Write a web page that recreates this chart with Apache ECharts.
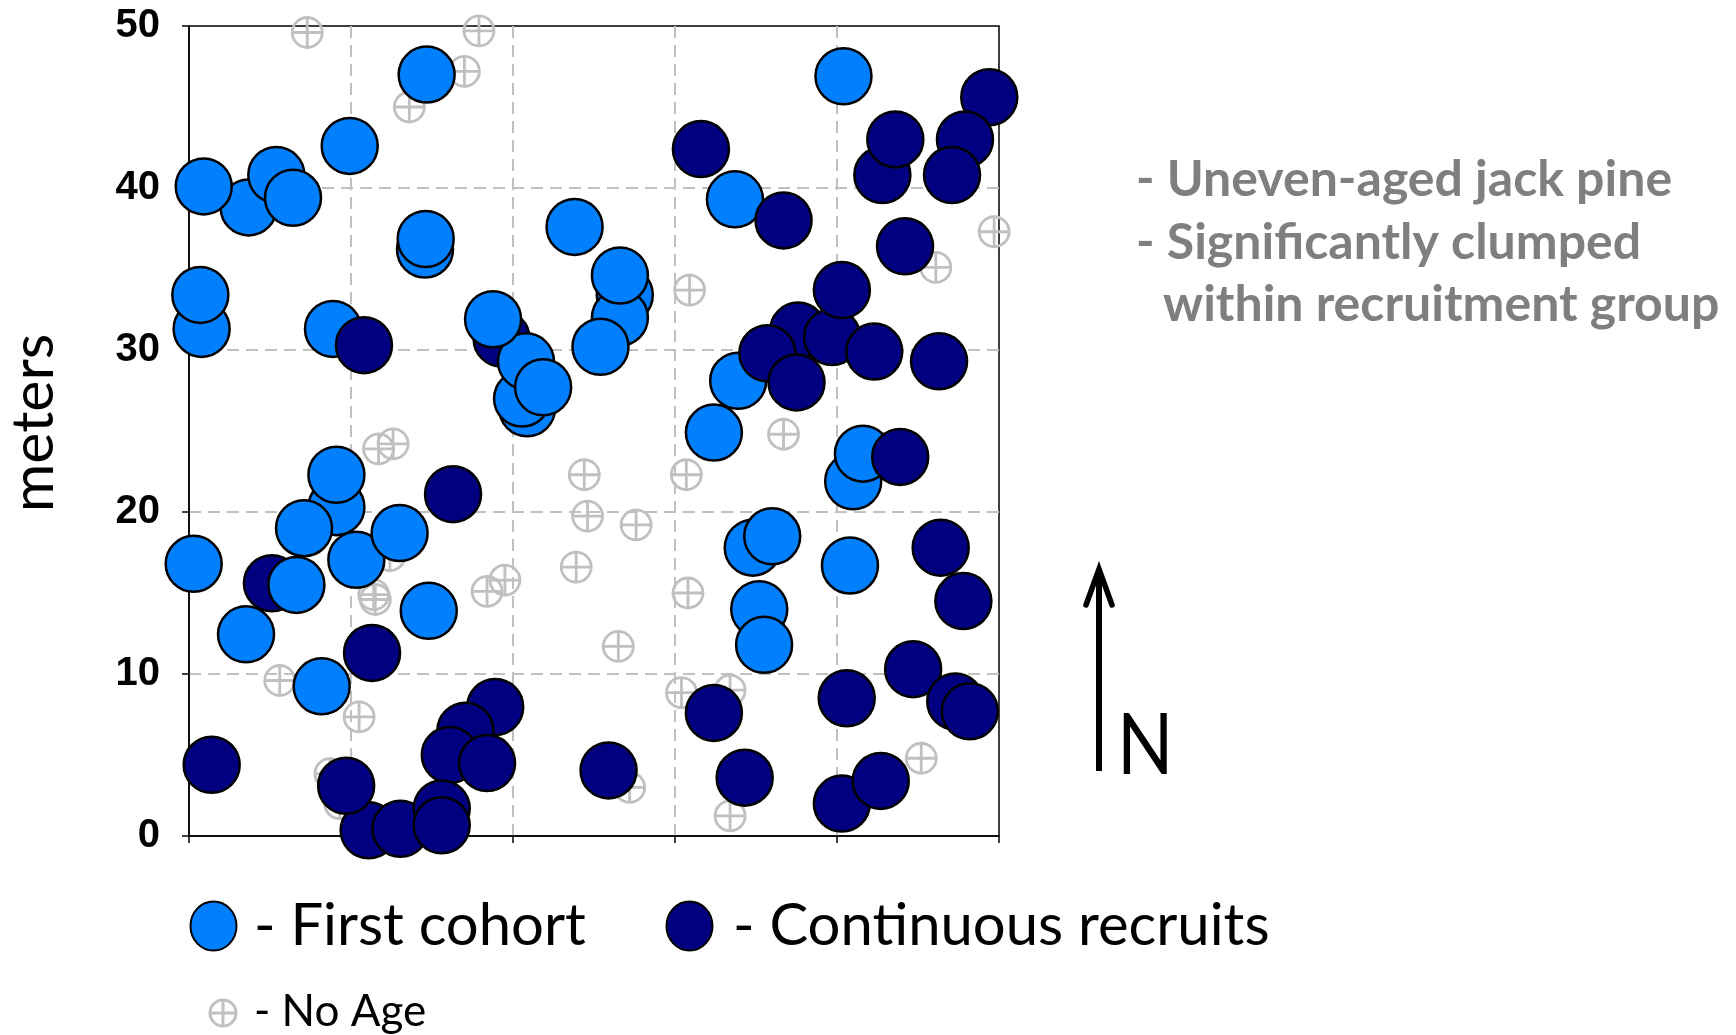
<!DOCTYPE html>
<html><head><meta charset="utf-8">
<script src="https://cdn.jsdelivr.net/npm/echarts@6/dist/echarts.min.js"></script>
<style>html,body{margin:0;padding:0;background:#fff}#c{width:1736px;height:1035px}</style>
</head><body><div id="c"></div>
<script>
// ---- data (metres, x = east, y = north) ----
const yTickLabels = ['0', '10', '20', '30', '40', '50'];

const firstCohort = [
  [0.78,31.3],[0.70,33.4],
  [3.68,38.8],[0.91,40.1],[5.39,40.8],[6.42,39.4],
  [9.92,42.6],[14.67,47.0],
  [14.57,36.2],[14.61,36.85],
  [8.89,31.3],
  [20.87,26.4],[20.56,27.0],[20.8,29.3],[21.86,27.7],[18.77,31.9],
  [23.8,37.6],
  [26.9,33.4],[26.6,32.0],[26.6,34.6],[25.4,30.2],
  [40.4,46.9],[33.7,39.3],[33.9,28.1],[32.4,24.9],
  [41.0,21.9],[41.6,23.6],
  [34.8,17.8],[36.0,18.5],[40.8,16.7],[35.2,14.0],[35.5,11.8],
  [0.29,16.8],[3.52,12.45],[9.1,20.3],[9.1,22.3],[7.1,19.0],[6.63,15.5],
  [10.33,17.05],[13.0,18.7],[14.8,13.9],[8.19,9.24]
];

// continuous recruits that lie underneath first-cohort trees
const recruitsUnder = [[5.12,15.6],[19.3,30.7]];

// continuous recruits drawn on top
const recruitsOver = [
  [10.8,30.3],
  [31.6,42.4],[36.7,38.0],[49.4,45.6],[42.8,40.8],[43.6,43.0],[47.9,43.0],[47.1,40.8],[44.2,36.4],
  [37.6,31.2],[39.7,30.8],[40.3,33.7],[35.7,29.8],[37.5,28.0],[42.3,29.9],[46.3,29.3],
  [43.9,23.4],[46.4,17.8],[47.8,14.5],[44.7,10.3],[40.6,8.5],[47.3,8.3],[48.2,7.7],
  [32.4,7.6],[34.3,3.6],[25.9,4.05],[40.3,2.0],[42.7,3.4],
  [16.3,21.1],[11.3,11.3],[1.4,4.4],
  [18.9,7.96],[17.06,6.5],[16.1,5.0],[18.4,4.5],
  [11.09,0.35],[13.05,0.45],[15.6,1.7],[15.6,0.66],[9.7,3.1]
];

const noAge = [
  [7.3,49.6],[17.9,49.7],[17.0,47.2],[13.6,45.0],
  [11.7,23.9],[12.6,24.2],[11.4,14.9],[11.5,14.6],[18.4,15.1],[19.5,15.8],
  [5.6,9.6],[10.5,7.35],[8.7,3.85],[9.3,2.0],[12.4,17.3],
  [30.9,33.7],[49.7,37.3],[46.1,35.1],[36.7,24.8],
  [24.4,22.3],[30.7,22.3],[24.6,19.75],[27.6,19.2],[23.9,16.6],[30.8,15.0],
  [26.5,11.7],[30.4,8.85],[33.4,9.0],[27.2,3.0],[33.4,1.24],[45.2,4.8]
];

const seriesNames = ['First cohort', 'Continuous recruits', 'No Age'];
const notes = ['- Uneven-aged jack pine', '- Significantly clumped', 'within recruitment group'];

// ---- styles ----
const LIGHT = '#0080FF', DARK = '#000080', GREY = '#c0c0c0';
const crossPath = 'path://M1,15 A14,14 0 1 1 29,15 A14,14 0 1 1 1,15 Z M1,15 L29,15 M15,1 L15,29';
const bigDot = (c) => ({ color: c, borderColor: '#000', borderWidth: 2.5, opacity: 1 });

const chart = echarts.init(document.getElementById('c'), null, { renderer: 'canvas' });

const axisCommon = {
  type: 'value', min: 0, max: 50, interval: 10,
  axisLine: { show: true, onZero: false, lineStyle: { color: '#000', width: 1.5 } },
  axisTick: { show: true, inside: false, length: 7, lineStyle: { color: '#000', width: 1.5 } },
  splitLine: { show: true, showMinLine: false, showMaxLine: false,
    lineStyle: { color: GREY, width: 2, type: [12, 7] } }
};

chart.setOption({
  animation: false,
  backgroundColor: '#fff',
  grid: { left: 189, top: 26, width: 810, height: 810, show: true,
          borderColor: '#000', borderWidth: 1.5, backgroundColor: 'transparent' },
  xAxis: Object.assign({}, axisCommon, { axisLabel: { show: false } }),
  yAxis: Object.assign({}, axisCommon, {
    axisLabel: { show: true, margin: 29, color: '#000',
      fontFamily: 'Liberation Sans', fontWeight: 'bold', fontSize: 40,
      formatter: (v) => yTickLabels[Math.round(v / 10)] }
  }),
  series: [
    { name: seriesNames[2], type: 'scatter', data: noAge, symbol: crossPath, symbolSize: 30,
      symbolKeepAspect: true, silent: true,
      itemStyle: { color: 'rgba(0,0,0,0)', borderColor: GREY, borderWidth: 2.8, opacity: 1 }, z: 2 },
    { name: seriesNames[1], type: 'scatter', data: recruitsUnder, symbol: 'circle', symbolSize: 56,
      silent: true, itemStyle: bigDot(DARK), z: 3 },
    { name: seriesNames[0], type: 'scatter', data: firstCohort, symbol: 'circle', symbolSize: 56,
      silent: true, itemStyle: bigDot(LIGHT), z: 4 },
    { name: seriesNames[1], type: 'scatter', data: recruitsOver, symbol: 'circle', symbolSize: 56,
      silent: true, itemStyle: bigDot(DARK), z: 5 }
  ],
  graphic: [
    // y-axis title
    { type: 'text', x: 34, y: 423, rotation: Math.PI / 2,
      style: { text: 'meters', font: '59px Lato', fill: '#000', align: 'center', verticalAlign: 'middle' } },
    // notes
    { type: 'text', x: 1136, y: 180, style: { text: notes[0], font: 'bold 50px Lato', fill: '#7f7f7f', verticalAlign: 'middle' } },
    { type: 'text', x: 1136, y: 243, style: { text: notes[1], font: 'bold 50px Lato', fill: '#7f7f7f', verticalAlign: 'middle' } },
    { type: 'text', x: 1163, y: 305, style: { text: notes[2], font: 'bold 50px Lato', fill: '#7f7f7f', verticalAlign: 'middle' } },
    // north arrow
    { type: 'line', shape: { x1: 1099, y1: 771, x2: 1099, y2: 570 },
      style: { stroke: '#000', lineWidth: 6 } },
    { type: 'polyline', shape: { points: [[1086, 605], [1099, 569], [1112, 605]] },
      style: { stroke: '#000', lineWidth: 5.5, fill: null, lineCap: 'round', lineJoin: 'miter' } },
    { type: 'text', x: 1117, y: 746, scaleX: 0.86,
      style: { text: 'N', font: '86px Lato', fill: '#000', verticalAlign: 'middle' } },
    // legend
    { type: 'ellipse', shape: { cx: 213.5, cy: 926, rx: 23, ry: 24.5 },
      style: { fill: LIGHT, stroke: '#000', lineWidth: 2 } },
    { type: 'text', x: 254, y: 926, style: { text: '- ' + seriesNames[0], font: '58px Lato', fill: '#000', verticalAlign: 'middle' } },
    { type: 'ellipse', shape: { cx: 689.5, cy: 926, rx: 23, ry: 24.5 },
      style: { fill: DARK, stroke: '#000', lineWidth: 2 } },
    { type: 'text', x: 733, y: 926, style: { text: '- ' + seriesNames[1], font: '58px Lato', fill: '#000', verticalAlign: 'middle' } },
    { type: 'circle', shape: { cx: 223, cy: 1013, r: 13 },
      style: { fill: null, stroke: GREY, lineWidth: 3 } },
    { type: 'line', shape: { x1: 210, y1: 1013, x2: 236, y2: 1013 }, style: { stroke: GREY, lineWidth: 3 } },
    { type: 'line', shape: { x1: 223, y1: 1000, x2: 223, y2: 1026 }, style: { stroke: GREY, lineWidth: 3 } },
    { type: 'text', x: 254, y: 1012, style: { text: '- ' + seriesNames[2], font: '44px Lato', fill: '#000', verticalAlign: 'middle' } }
  ]
});
</script></body></html>
